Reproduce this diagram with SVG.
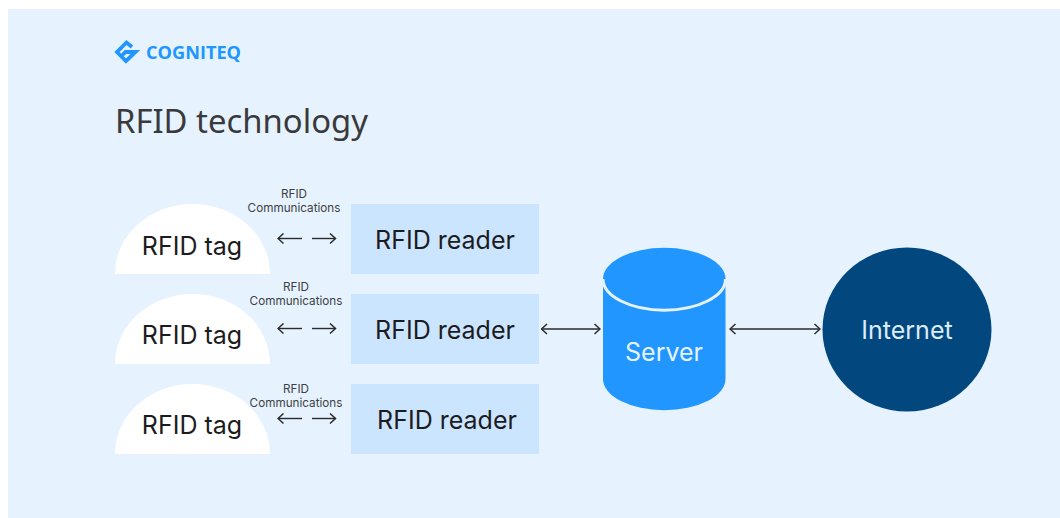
<svg xmlns="http://www.w3.org/2000/svg" width="1060" height="518" viewBox="0 0 1060 518">
<style>
text{font-family:Inter,"Liberation Sans",sans-serif}
.tag{fill:#fff}
.tl{font-size:25px;fill:#1c1c1f;text-anchor:middle}
.rd{fill:#cce5ff}
.sm{font-size:11.700px;fill:#3d3f44;text-anchor:middle}
.wire{fill:none;stroke:#2b2b2b;stroke-width:1.400}
</style>
<defs>
<marker id="h" viewBox="0 0 10 12" refX="9" refY="6" markerWidth="10" markerHeight="12" markerUnits="userSpaceOnUse" orient="auto-start-reverse"><path d="M3.500 1L9 6L3.500 11" fill="none" stroke="#2b2b2b" stroke-width="1.500"/></marker>
</defs>
<rect width="1060" height="518" fill="#fff"/>
<rect x="8" y="9" width="1052" height="509" fill="#e6f3ff"/>
<g id="logo">
<path d="M132 47L126.500 42.500L117 52L126 61L135.500 52H125.500L121.500 56" fill="none" stroke="#2196ff" stroke-width="3.800"/>
<text x="146" y="59" font-size="18" font-weight="700" fill="#2196ff" style="font-family:'Open Sans',sans-serif" textLength="95" lengthAdjust="spacingAndGlyphs">COGNITEQ</text>
</g>
<text id="title" x="115" y="133" font-size="33" fill="#3a3a3c" style="font-family:'Noto Sans',sans-serif" textLength="253" lengthAdjust="spacingAndGlyphs">RFID technology</text>
<g id="connectors">
<path class="wire" d="M278 238.500H302" marker-start="url(#h)"/>
<path class="wire" d="M312 238.500H335.500" marker-end="url(#h)"/>
<path class="wire" d="M278 328.500H302" marker-start="url(#h)"/>
<path class="wire" d="M312 328.500H335.500" marker-end="url(#h)"/>
<path class="wire" d="M278 418.500H302" marker-start="url(#h)"/>
<path class="wire" d="M312 418.500H335.500" marker-end="url(#h)"/>
<path class="wire" d="M541.500 329H600" marker-start="url(#h)" marker-end="url(#h)"/>
<path class="wire" d="M730 329H820" marker-start="url(#h)" marker-end="url(#h)"/>
</g>
<g id="comm1"><text class="sm" x="294" y="197.500">RFID</text><text class="sm" x="294" y="211.500">Communications</text></g>
<g id="comm2"><text class="sm" x="296" y="290.500">RFID</text><text class="sm" x="296" y="304.500">Communications</text></g>
<g id="comm3"><text class="sm" x="296" y="392.500">RFID</text><text class="sm" x="296" y="406.500">Communications</text></g>
<g id="tag1"><path class="tag" d="M115 274A77.500 70 0 0 1 270 274Z"/><text class="tl" x="192" y="254.500">RFID tag</text></g>
<g id="tag2"><path class="tag" d="M115 364A77.500 70 0 0 1 270 364Z"/><text class="tl" x="192" y="343.500">RFID tag</text></g>
<g id="tag3"><path class="tag" d="M115 454A77.500 70 0 0 1 270 454Z"/><text class="tl" x="192" y="433.500">RFID tag</text></g>
<g id="reader1"><rect class="rd" x="351" y="204" width="188" height="70"/><text class="tl" x="445" y="248.500">RFID reader</text></g>
<g id="reader2"><rect class="rd" x="351" y="294" width="188" height="70"/><text class="tl" x="445" y="338.500">RFID reader</text></g>
<g id="reader3"><rect class="rd" x="351" y="384" width="188" height="70"/><text class="tl" x="447" y="428.500">RFID reader</text></g>
<g id="server">
<path d="M603 279A61 31 0 0 1 725.500 279V379A61 31 0 0 1 603 379Z" fill="#2196ff"/>
<path d="M603 279A61 31 0 0 0 725.500 279" fill="none" stroke="#e6f3ff" stroke-width="3"/>
<text x="664" y="360.500" font-size="25" fill="#e6f3ff" text-anchor="middle">Server</text>
</g>
<g id="internet">
<ellipse cx="907" cy="329.500" rx="84.500" ry="82" fill="#02487f"/>
<text x="907" y="338.500" font-size="25" fill="#dcecfa" text-anchor="middle">Internet</text>
</g>
</svg>
